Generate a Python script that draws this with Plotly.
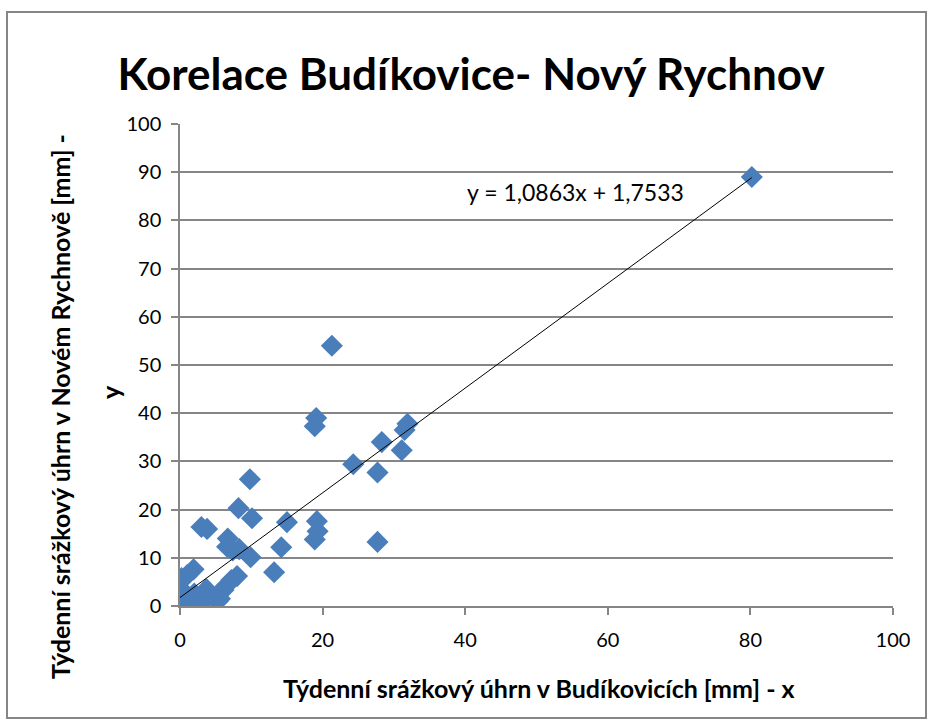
import plotly.graph_objects as go

# Data
x_budikovice = [80.2, 21.3, 19.1, 18.9, 31.9, 31.5, 28.3, 31.1, 24.3, 27.7,
                27.7, 19.2, 19.3, 18.9, 15.0, 14.2, 9.8, 8.2, 10.1, 3.0,
                3.8, 6.7, 7.4, 6.6, 8.3, 9.9, 13.2, 1.9, 1.0, 0.2,
                8.0, 7.2, 6.4, 6.1, 5.6, 5.3, 3.4, 3.0, 2.0, 1.8,
                2.8, 1.3, 0.4, 0.1, 0.2, 0.0, 2.3, 4.4, 3.7]
y_novy_rychnov = [89.0, 54.0, 39.0, 37.3, 37.8, 36.5, 34.0, 32.3, 29.4, 27.7,
                  13.3, 17.6, 15.5, 13.8, 17.4, 12.2, 26.3, 20.3, 18.2, 16.4,
                  16.0, 14.0, 11.5, 12.3, 11.8, 10.1, 7.0, 7.6, 6.4, 5.8,
                  6.2, 5.4, 4.1, 3.3, 1.5, 1.0, 2.8, 1.9, 2.6, 1.8,
                  0.2, 0.9, 0.5, 3.6, 2.0, 0.0, 0.5, 2.2, 3.5]

trend_slope = 1.0863
trend_intercept = 1.7533
trend_label = "y = 1,0863x + 1,7533"

x_ticks = [0, 20, 40, 60, 80, 100]
y_ticks = [0, 10, 20, 30, 40, 50, 60, 70, 80, 90, 100]

title_text = "Korelace Budíkovice- Nový Rychnov"
x_title = "Týdenní srážkový úhrn v Budíkovicích [mm] - x"
y_title_line1 = "Týdenní srážkový úhrn v Novém Rychnově [mm] -"
y_title_line2 = "y"

FONT = "Lato"
W, H = 932, 724
L, R, T, B = 180, 39, 124, 118
pw, ph = W - L - R, H - T - B


def px_to_paper(px, py):
    return (px - L) / pw, (H - B - py) / ph


x_min, x_max = min(x_budikovice), max(x_budikovice)
trend_x = [x_min, x_max]
trend_y = [trend_slope * v + trend_intercept for v in trend_x]

fig = go.Figure()
fig.add_trace(go.Scatter(
    x=x_budikovice, y=y_novy_rychnov, mode="markers",
    marker=dict(symbol="diamond", size=17, color="#4A7EBB",
                line=dict(width=0)),
    showlegend=False, hoverinfo="x+y"))
fig.add_trace(go.Scatter(
    x=trend_x, y=trend_y, mode="lines",
    line=dict(color="black", width=1), showlegend=False, hoverinfo="skip"))

fig.update_layout(
    width=W, height=H,
    margin=dict(l=L, r=R, t=T, b=B),
    paper_bgcolor="white", plot_bgcolor="white",
    font=dict(family=FONT, color="black"),
    title=dict(text=f"<b>{title_text}</b>", x=471 / W, xref="container",
               xanchor="center", y=1 - 75 / H, yref="container",
               yanchor="middle",
               font=dict(family=FONT, size=44, color="black")),
    xaxis=dict(range=[0, 100], tickvals=x_ticks, showgrid=False,
               showline=True, linecolor="#868686", linewidth=1.5,
               ticks="outside", ticklen=7, tickcolor="#868686", tickwidth=1.5,
               tickfont=dict(size=20), zeroline=False, ticklabelstandoff=8),
    yaxis=dict(range=[0, 100], tickvals=y_ticks, showgrid=True,
               gridcolor="#868686", gridwidth=1.5,
               showline=True, linecolor="#868686", linewidth=1.5,
               ticks="outside", ticklen=7, tickcolor="#868686", tickwidth=1.5,
               tickfont=dict(size=20), zeroline=False, ticklabelstandoff=6),
)

fig.add_annotation(x=55.4, y=85.9, xref="x", yref="y", text=trend_label,
                   showarrow=False, font=dict(family=FONT, size=23, color="black"))

# axis titles
ax, ay = px_to_paper(539, 688)
fig.add_annotation(x=ax, y=ay, xref="paper", yref="paper",
                   text=f"<b>{x_title}</b>", showarrow=False,
                   xanchor="center", yanchor="middle",
                   font=dict(family=FONT, size=25, color="black"))
ax, ay = px_to_paper(60, 407)
fig.add_annotation(x=ax, y=ay, xref="paper", yref="paper",
                   text=f"<b>{y_title_line1}</b>", showarrow=False,
                   textangle=-90, xanchor="center", yanchor="middle",
                   font=dict(family=FONT, size=25, color="black"))
ax, ay = px_to_paper(110, 392)
fig.add_annotation(x=ax, y=ay, xref="paper", yref="paper",
                   text=f"<b>{y_title_line2}</b>", showarrow=False,
                   textangle=-90, xanchor="center", yanchor="middle",
                   font=dict(family=FONT, size=25, color="black"))

# outer chart border
fig.add_shape(type="rect", xref="paper", yref="paper",
              x0=(7 - L) / pw, x1=(926 - L) / pw,
              y0=(H - B - 718) / ph, y1=(H - B - 12) / ph,
              line=dict(color="#868686", width=2), fillcolor="rgba(0,0,0,0)",
              layer="below")

fig.write_html("out.html", config={"displayModeBar": False},
               post_script="document.body.style.margin='0';document.body.style.overflow='hidden';")
